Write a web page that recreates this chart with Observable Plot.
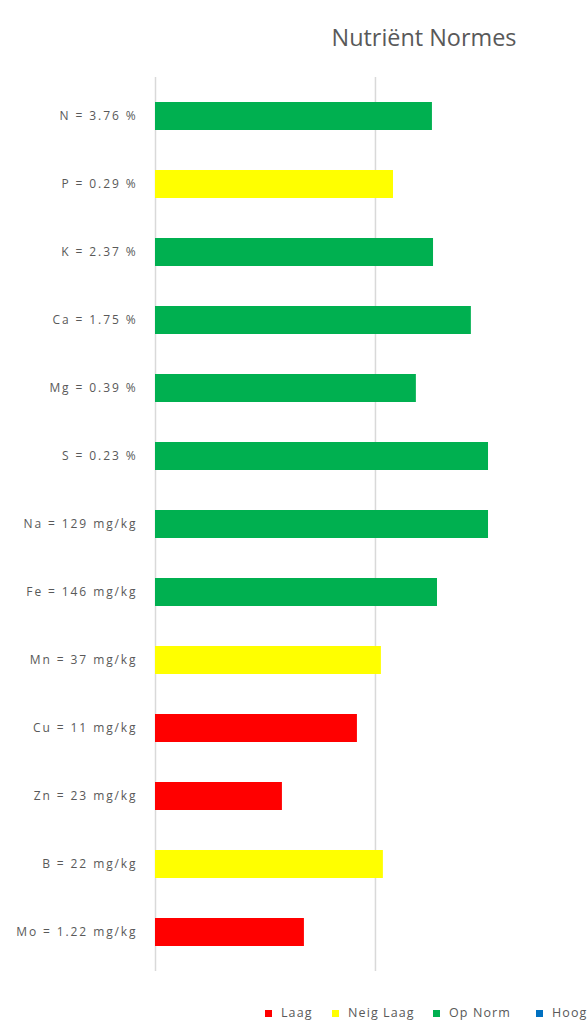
<!DOCTYPE html>
<html>
<head>
<meta charset="utf-8">
<script src="https://cdn.jsdelivr.net/npm/d3@7"></script>
<script src="https://cdn.jsdelivr.net/npm/@observablehq/plot@0.6"></script>
<style>
  html, body { margin: 0; padding: 0; background: #fff; }
  body { width: 587px; height: 1021px; position: relative; overflow: hidden; font-family: "Open Sans", sans-serif; }
  #title { position: absolute; top: 22px; left: 424px; transform: translateX(-50%); white-space: nowrap;
           font-size: 23.4px; color: #595959; line-height: 30px; }
  #chart { position: absolute; top: 59px; left: 0; }
  #chart svg text { letter-spacing: 1.9px; }
  #legend { position: absolute; top: 1004px; left: 0; width: 587px; height: 18px; font-size: 12.5px; color: #595959; letter-spacing: 1.1px; }
  .item { position: absolute; top: 0; display: flex; align-items: center; white-space: nowrap; line-height: 18px; }
  .sw { width: 7px; height: 7px; margin-right: 9px; }
</style>
</head>
<body>
<div id="title">Nutriënt Normes</div>
<div id="chart"></div>
<div id="legend"></div>
<script>
const labels = ["N = 3.76 %", "P = 0.29 %", "K = 2.37 %", "Ca = 1.75 %", "Mg = 0.39 %", "S = 0.23 %",
  "Na = 129 mg/kg", "Fe = 146 mg/kg", "Mn = 37 mg/kg", "Cu = 11 mg/kg", "Zn = 23 mg/kg", "B = 22 mg/kg", "Mo = 1.22 mg/kg"];
const values = [125.9, 108.2, 126.4, 143.6, 118.6, 151.4, 151.4, 128.2, 102.7, 91.8, 57.7, 103.6, 67.7];
const statuses = ["Op Norm", "Neig Laag", "Op Norm", "Op Norm", "Op Norm", "Op Norm",
  "Op Norm", "Op Norm", "Neig Laag", "Laag", "Laag", "Neig Laag", "Laag"];
const categories = ["Laag", "Neig Laag", "Op Norm", "Hoog"];
const colors = ["#FF0000", "#FFFF00", "#00B050", "#0070C0"];
const gridTicks = [0, 100];

const legendLeft = [265, 332, 433, 536];

const data = labels.map((label, i) => ({label, value: values[i], status: statuses[i]}));

const chart = Plot.plot({
  width: 587,
  height: 930,
  marginLeft: 155,
  marginRight: 0,
  marginTop: 18,
  marginBottom: 18,
  style: {fontFamily: "Open Sans, sans-serif", fontSize: "12px", color: "#595959", background: "transparent"},
  x: {domain: [0, 196.4], axis: null},
  y: {domain: labels, paddingInner: 0.59, paddingOuter: 0.3, label: null, tickSize: 0, tickPadding: 18},
  color: {domain: categories, range: colors},
  marks: [
    Plot.ruleX(gridTicks, {stroke: "#d9d9d9", strokeWidth: 1.5}),
    Plot.barX(data, {x: "value", y: "label", fill: "status"})
  ]
});
document.getElementById("chart").appendChild(chart);

const legend = document.getElementById("legend");
categories.forEach((c, i) => {
  const item = document.createElement("div");
  item.className = "item";
  item.style.left = legendLeft[i] + "px";
  const sw = document.createElement("div");
  sw.className = "sw";
  sw.style.background = colors[i];
  const t = document.createElement("span");
  t.textContent = c;
  item.appendChild(sw);
  item.appendChild(t);
  legend.appendChild(item);
});
</script>
</body>
</html>
